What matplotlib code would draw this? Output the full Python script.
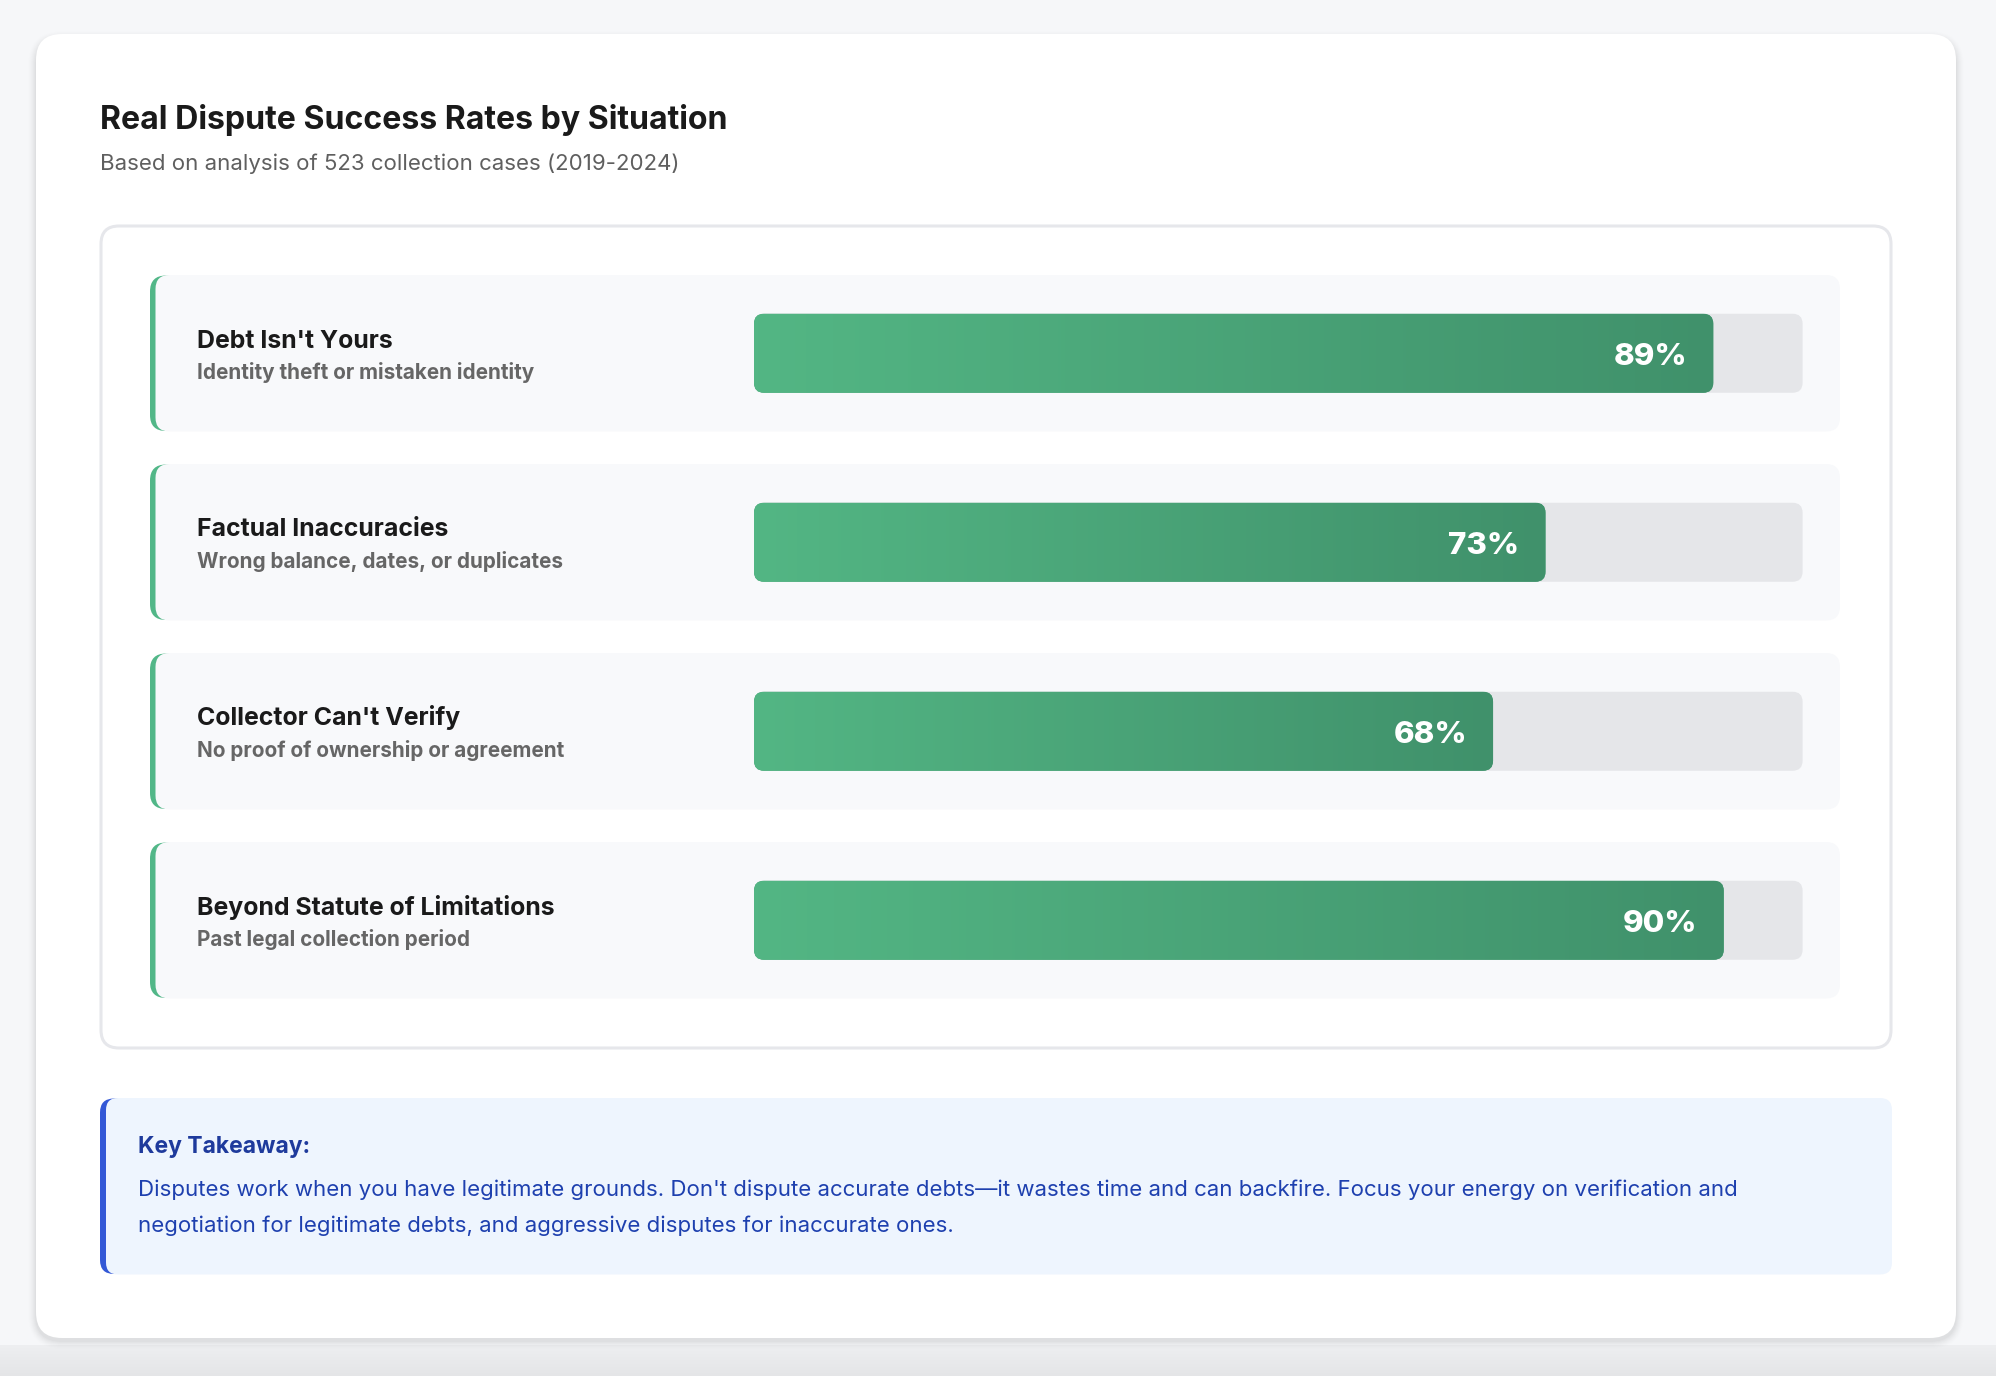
import numpy as np
import matplotlib
matplotlib.use("Agg")
import matplotlib.pyplot as plt
from matplotlib.patches import FancyBboxPatch
from matplotlib.colors import LinearSegmentedColormap

plt.rcParams['font.family'] = ['Inter', 'DejaVu Sans']

# data
categories = ["Debt Isn't Yours", "Factual Inaccuracies", "Collector Can't Verify",
              "Beyond Statute of Limitations"]
descriptions = ["Identity theft or mistaken identity", "Wrong balance, dates, or duplicates",
                "No proof of ownership or agreement", "Past legal collection period"]
rates = [89, 73, 68, 90]

title = "Real Dispute Success Rates by Situation"
subtitle = "Based on analysis of 523 collection cases (2019-2024)"
takeaway_head = "Key Takeaway:"
takeaway_lines = ["Disputes work when you have legitimate grounds. Don't dispute accurate debts\u2014it wastes time and can backfire. Focus your energy on verification and",
                  "negotiation for legitimate debts, and aggressive disputes for inaccurate ones."]

W, H = 1996, 1376
fig = plt.figure(figsize=(W / 100, H / 100), dpi=100)
fig.patch.set_facecolor('#f6f7f9')

# background axes in pixel coords
bg = fig.add_axes([0, 0, 1, 1])
bg.set_xlim(0, W)
bg.set_ylim(H, 0)
bg.axis('off')


def rbox(ax, x, y, w, h, r, fc, ec='none', lw=0, z=1, **kw):
    p = FancyBboxPatch((x, y), w, h, boxstyle=f"round,pad=0,rounding_size={r}",
                       fc=fc, ec=ec, lw=lw, zorder=z, **kw)
    ax.add_patch(p)
    return p


# bottom gray strip
strip = np.linspace(0, 1, 64).reshape(-1, 1)
bg.imshow(strip, extent=[0, W, H, 1345], aspect='auto',
          cmap=LinearSegmentedColormap.from_list('s', ['#eeeff1', '#e4e5e7']), zorder=0)

# card shadow + card
for k, a in zip(range(8, 0, -1), np.linspace(0.005, 0.018, 8)):
    rbox(bg, 36 - k, 36 - k + 3, 1920 + 2 * k, 1302 + 2 * k, 26 + k, fc='black', alpha=a, z=1)
rbox(bg, 36, 34, 1920, 1304, 26, fc='white', z=2)

# titles
bg.text(100, 129, title, fontsize=23.1, fontweight='bold', color='#1a1a1a', zorder=5)
bg.text(100, 170.5, subtitle, fontsize=16, color='#5f5f5f', zorder=5)

# inner panel
rbox(bg, 101, 226, 1790, 822, 18, fc='white', ec='#e6e7eb', lw=2.2, z=3)

# rows
row_top0, row_step, row_h = 275, 189, 156.5
for i, (cat, desc) in enumerate(zip(categories, descriptions)):
    top = row_top0 + i * row_step
    rbox(bg, 150, top + 0.5, 40, row_h - 1, 16, fc='#52b788', z=4)
    rbox(bg, 155.5, top, 1684.5, row_h, 14, fc='#f8f9fb', z=4.5)
    bg.text(197.5, top + 72.5, cat, fontsize=17.9, fontweight='bold', color='#1a1a1a', zorder=6)
    bg.text(197.5, top + 104, desc, fontsize=14.9, fontweight='bold', color='#666666', zorder=6)

# takeaway box
rbox(bg, 100, 1098.5, 40, 175.5, 14, fc='#3358d6', z=3)
rbox(bg, 106, 1098, 1786, 176.5, 12, fc='#eef5fe', z=3.5)
bg.text(138, 1152.5, takeaway_head, fontsize=16.5, fontweight='bold', color='#1e3a9c', zorder=6)
for j, line in enumerate(takeaway_lines):
    bg.text(138, 1196.5 + j * 36, line, fontsize=16, color='#1e40af', zorder=6)

# bar axes (track = 0..100 %)
x0, x1 = 754, 1802.6
y0, y1 = row_top0, row_top0 + 3 * row_step + row_h
ax = fig.add_axes([x0 / W, 1 - y1 / H, (x1 - x0) / W, (y1 - y0) / H])
ax.patch.set_alpha(0)
ax.axis('off')
pad_units = (row_h / 2) / row_step

px_x = (x1 - x0) / 100
px_y = row_step
asp = px_x / px_y
bar_h = 79 / row_step
r = 10 / px_x
fill_pad = 26 / px_x  # fill has right padding behind the label
cmap = LinearSegmentedColormap.from_list('g', ['#53b684', '#40916b'])
grad = np.linspace(0, 1, 256).reshape(1, -1)

for i, v in enumerate(rates):
    yb = i - bar_h / 2
    track = FancyBboxPatch((0, yb), 100, bar_h, boxstyle=f"round,pad=0,rounding_size={r}",
                           mutation_aspect=asp, fc='#e5e6e9', ec='none', zorder=2)
    ax.add_patch(track)
    fill = FancyBboxPatch((0, yb), v + fill_pad, bar_h, boxstyle=f"round,pad=0,rounding_size={r}",
                          mutation_aspect=asp, fc='#4aa477', ec='none', zorder=3)
    ax.add_patch(fill)
    im = ax.imshow(grad, extent=[0, v + fill_pad, i + bar_h / 2, i - bar_h / 2], aspect='auto',
                   cmap=cmap, zorder=4)
    im.set_clip_path(fill)
    ax.text(v, i + 11.5 / px_y, f"{v}%", ha='right', va='baseline',
            fontsize=22.5, fontweight=800, color='white', zorder=5)

ax.set_xlim(0, 100)
ax.set_ylim(len(rates) - 1 + pad_units, -pad_units)
ax.set_aspect('auto')

fig.savefig('out.png', dpi=100, facecolor=fig.get_facecolor())
